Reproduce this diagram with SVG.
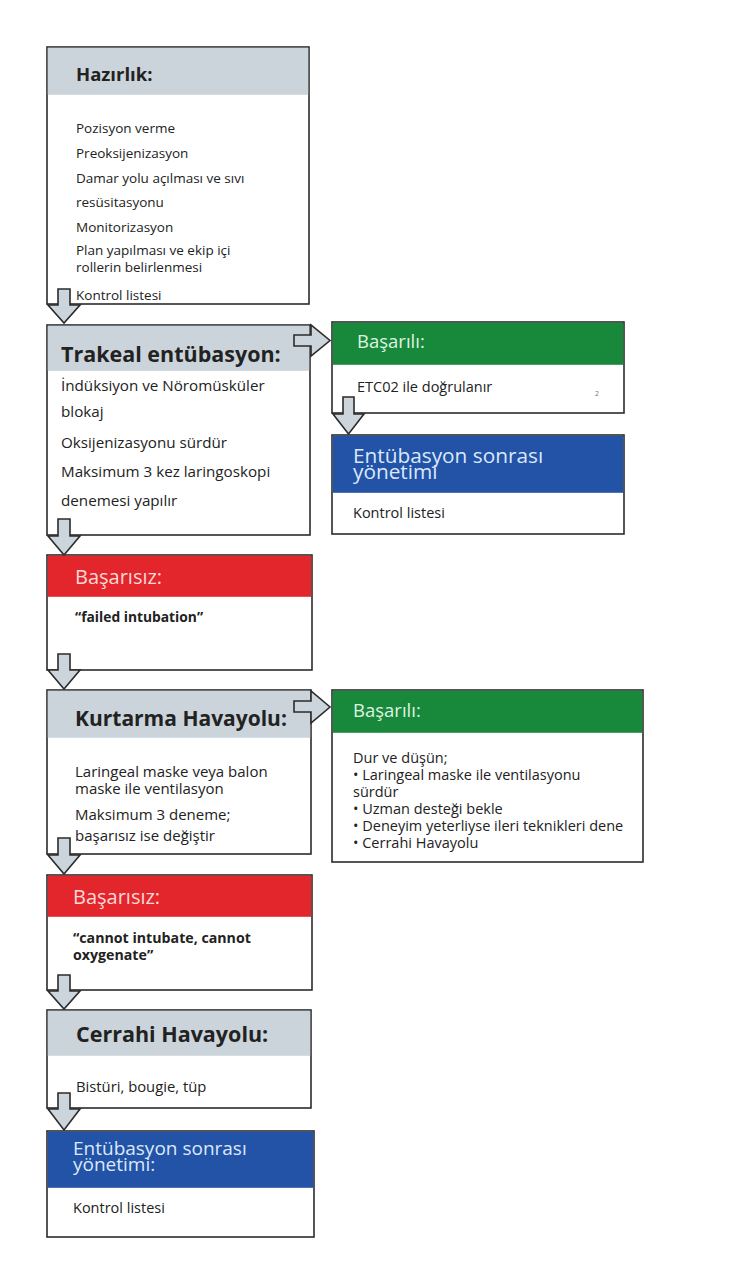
<svg xmlns="http://www.w3.org/2000/svg" width="754" height="1280" viewBox="0 0 754 1280">
<style>
.box{fill:#ffffff;stroke:#2b2b2b;stroke-width:1.6}
.hg{fill:#cbd4db}
.hgr{fill:#18893a}
.hr{fill:#e2262b}
.hb{fill:#2253a6}
text{font-family:"Open Sans","Noto Sans","DejaVu Sans",sans-serif;fill:#222}
.tb{font-weight:bold}
.t{font-size:13.5px}
.tm{font-size:14.5px}
.tl{font-size:15.2px}
.lg{fill:#dff3e2}
.lr{fill:#fbd9d9}
.lb{fill:#dce8fb}
.arr{fill:#ccd5dc;stroke:#2b2b2b;stroke-width:1.6;stroke-linejoin:miter}
</style>
<rect width="754" height="1280" fill="#ffffff"/>

<g id="hazirlik">
<rect class="box" x="47" y="47" width="262" height="257"/>
<rect class="hg" x="47.8" y="47.8" width="260.4" height="47"/>
<text class="tb" x="76" y="81" font-size="18.5">Hazırlık:</text>
<text class="t" x="76" y="133">Pozisyon verme</text>
<text class="t" x="76" y="158">Preoksijenizasyon</text>
<text class="t" x="76" y="183">Damar yolu açılması ve sıvı</text>
<text class="t" x="76" y="207">resüsitasyonu</text>
<text class="t" x="76" y="232">Monitorizasyon</text>
<text class="t" x="76" y="255">Plan yapılması ve ekip içi</text>
<text class="t" x="76" y="272">rollerin belirlenmesi</text>
<text class="t" x="76" y="300">Kontrol listesi</text>
</g>

<g id="trakeal">
<rect class="box" x="47" y="325" width="263" height="210"/>
<rect class="hg" x="47.8" y="325.8" width="261.4" height="45"/>
<text class="tb" x="61" y="362" font-size="21.5">Trakeal entübasyon:</text>
<text class="tl" x="61" y="391">İndüksiyon ve Nöromüsküler</text>
<text class="tl" x="61" y="417">blokaj</text>
<text class="tl" x="61" y="448">Oksijenizasyonu sürdür</text>
<text class="tl" x="61" y="477">Maksimum 3 kez laringoskopi</text>
<text class="tl" x="61" y="506">denemesi yapılır</text>
</g>

<g id="basarili1">
<rect class="box" x="332" y="322" width="292" height="91"/>
<rect class="hgr" x="332.8" y="322.8" width="290.4" height="42"/>
<text class="lg" x="357" y="348" font-size="18.5">Başarılı:</text>
<text class="tm" x="357" y="392">ETC02 ile doğrulanır</text>
<text x="595" y="396" font-size="7" style="fill:#777">2</text>
</g>

<g id="entubasyon1">
<rect class="box" x="332" y="435" width="292" height="99"/>
<rect class="hb" x="332.8" y="435.8" width="290.4" height="57"/>
<text class="lb" x="353" y="463" font-size="20.8">Entübasyon sonrası</text>
<text class="lb" x="353" y="479" font-size="20.8">yönetimi</text>
<text class="tm" x="353" y="518">Kontrol listesi</text>
</g>

<g id="basarisiz1">
<rect class="box" x="47" y="555" width="265" height="115"/>
<rect class="hr" x="47.8" y="555.8" width="263.4" height="41"/>
<text class="lr" x="75" y="584" font-size="20">Başarısız:</text>
<text class="tb" x="75" y="622" font-size="13.8">“failed intubation”</text>
</g>

<g id="kurtarma">
<rect class="box" x="47" y="690" width="264" height="164"/>
<rect class="hg" x="47.8" y="690.8" width="262.4" height="47"/>
<text class="tb" x="75" y="726" font-size="21">Kurtarma Havayolu:</text>
<text x="75" y="777" font-size="15">Laringeal maske veya balon</text>
<text x="75" y="794" font-size="15">maske ile ventilasyon</text>
<text x="75" y="820" font-size="15">Maksimum 3 deneme;</text>
<text x="75" y="841" font-size="15">başarısız ise değiştir</text>
</g>

<g id="basarili2">
<rect class="box" x="332" y="690" width="311" height="172"/>
<rect class="hgr" x="332.8" y="690.8" width="309.4" height="42"/>
<text class="lg" x="353" y="717" font-size="18.5">Başarılı:</text>
<text class="tm" x="353" y="763">Dur ve düşün;</text>
<text class="tm" x="353" y="780">• Laringeal maske ile ventilasyonu</text>
<text class="tm" x="353" y="797">sürdür</text>
<text class="tm" x="353" y="814">• Uzman desteği bekle</text>
<text class="tm" x="353" y="831">• Deneyim yeterliyse ileri teknikleri dene</text>
<text class="tm" x="353" y="848">• Cerrahi Havayolu</text>
</g>

<g id="basarisiz2">
<rect class="box" x="47" y="875" width="265" height="115"/>
<rect class="hr" x="47.8" y="875.8" width="263.4" height="41"/>
<text class="lr" x="73" y="904" font-size="20">Başarısız:</text>
<text class="tb" x="73" y="943" font-size="14.2">“cannot intubate, cannot</text>
<text class="tb" x="73" y="960" font-size="14.2">oxygenate”</text>
</g>

<g id="cerrahi">
<rect class="box" x="47" y="1010" width="264" height="98"/>
<rect class="hg" x="47.8" y="1010.8" width="262.4" height="45"/>
<text class="tb" x="76" y="1042" font-size="21.5">Cerrahi Havayolu:</text>
<text x="76" y="1092" font-size="14.8">Bistüri, bougie, tüp</text>
</g>

<g id="entubasyon2">
<rect class="box" x="47" y="1131" width="267" height="106"/>
<rect class="hb" x="47.8" y="1131.8" width="265.4" height="56"/>
<text class="lb" x="73" y="1155" font-size="19">Entübasyon sonrası</text>
<text class="lb" x="73" y="1171" font-size="19">yönetimi:</text>
<text class="tm" x="73" y="1213">Kontrol listesi</text>
</g>

<g id="connectors">
<path class="arr" d="M58,289 L70,289 L70,305 L80,305 L64,323 L48,305 L58,305 Z"/>
<path class="arr" d="M58,519 L70,519 L70,536 L80,536 L64,555 L48,536 L58,536 Z"/>
<path class="arr" d="M58,654 L70,654 L70,670 L80,670 L64,689 L48,670 L58,670 Z"/>
<path class="arr" d="M58,838 L70,838 L70,855 L80,855 L64,874 L48,855 L58,855 Z"/>
<path class="arr" d="M58,975 L70,975 L70,991 L80,991 L64,1009 L48,991 L58,991 Z"/>
<path class="arr" d="M58,1093 L70,1093 L70,1109 L80,1109 L64,1130 L48,1109 L58,1109 Z"/>
<path class="arr" d="M343,397 L354,397 L354,414 L364,414 L348.5,434 L333,414 L343,414 Z"/>
<path class="arr" d="M294,335 L311,335 L311,325 L330,340.5 L311,356 L311,346 L294,346 Z"/>
<path class="arr" d="M294,701 L311,701 L311,691 L330,707 L311,723 L311,712 L294,712 Z"/>
</g>
</svg>
